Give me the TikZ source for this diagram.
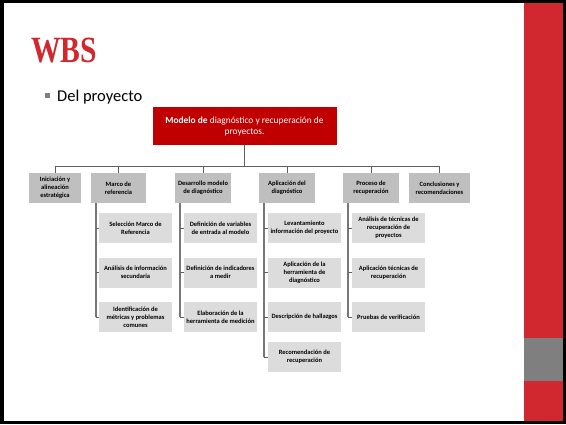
\documentclass[tikz,border=0pt]{standalone}
\usepackage{fontspec}
\setmainfont{Carlito}
\newfontfamily\titlefont{Liberation Serif}
\usepackage{xcolor}
\usetikzlibrary{positioning, calc}
\definecolor{slidered}{HTML}{D0282E}
\definecolor{rootred}{HTML}{C00000}
\definecolor{lvlgray}{HTML}{BFBFBF}
\definecolor{leafgray}{HTML}{DCDCDC}
\definecolor{linegray}{HTML}{5F5F5F}
\definecolor{sidegray}{HTML}{7F7F7F}

\begin{document}
\begin{tikzpicture}[x=1pt, y=-1pt,
    lvlbox/.style={fill=lvlgray, minimum height=30pt, inner sep=0pt, align=center,
                   font=\fontsize{6.5}{7.9}\selectfont\bfseries},
    leafbox/.style={fill=leafgray, minimum width=73pt, minimum height=30pt, inner sep=0pt,
                    align=center, font=\fontsize{6.5}{8}\selectfont\bfseries},
    conn/.style={draw=linegray, line width=1pt},
    hang/.style={draw=linegray!85, line width=1.4pt},
    tick/.style={draw=linegray, line width=0.6pt}]
  \useasboundingbox (0,0) rectangle (566,424);
  % frame and side bar
  \fill[black] (0,0) rectangle (566,424);
  \fill[white] (4,3) rectangle (563,421);
  \fill[slidered] (524,3) rectangle (563,421);
  \fill[sidegray] (524,338) rectangle (563,381);

  % title and bullet
  \node[anchor=base west, inner sep=0pt, text=slidered,
        font=\titlefont\fontsize{37}{37}\selectfont\bfseries] (title) at (31,62)
        {\scalebox{0.8}[1]{WBS}};
  \fill[sidegray] (45,93) rectangle (49.5,97.5);
  \node[anchor=base west, inner sep=0pt, font=\fontsize{16.5}{17}\selectfont] (bul) at (57,101)
        {Del proyecto};

  % root
  \node[fill=rootred, text=white, minimum width=184pt, minimum height=38pt,
        align=center, inner sep=0pt, font=\fontsize{9.4}{11}\selectfont] (root) at (244.5,126)
        {\textbf{Modelo de} diagnóstico y recuperación de\\proyectos.};

  % first level
  \node[lvlbox, minimum width=52pt] (ini) at (55,188) {Iniciación y\\alineación\\estratégica};
  \node[lvlbox, minimum width=55pt] (mar) at (118.5,188) {Marco de\\referencia};
  \node[lvlbox, minimum width=56pt] (des) at (203,188) {Desarrollo modelo\\de diagnóstico};
  \node[lvlbox, minimum width=56pt] (apl) at (287,188) {Aplicación del\\diagnóstico};
  \node[lvlbox, minimum width=56pt] (pro) at (371,188) {Proceso de\\recuperación};
  \node[lvlbox, minimum width=61pt] (con) at (439.5,188) {Conclusiones y\\recomendaciones};

  % leaves
  \node[leafbox] (mar1) at (135.5,228) {Selección Marco de\\Referencia};
  \node[leafbox] (mar2) at (135.5,272.5) {Análisis de información\\secundaria};
  \node[leafbox] (mar3) at (135.5,317) {Identificación de\\métricas y problemas\\comunes};
  \node[leafbox] (des1) at (220.5,228) {Definición de variables\\de entrada al modelo};
  \node[leafbox] (des2) at (220.5,272.5) {Definición de indicadores\\a medir};
  \node[leafbox] (des3) at (220.5,317) {Elaboración de la\\herramienta de medición};
  \node[leafbox] (apl1) at (304.5,228) {Levantamiento\\información del proyecto};
  \node[leafbox] (apl2) at (304.5,272.5) {Aplicación de la\\herramienta de\\diagnóstico};
  \node[leafbox] (apl3) at (304.5,317) {Descripción de hallazgos};
  \node[leafbox] (apl4) at (304.5,357) {Recomendación de\\recuperación};
  \node[leafbox] (pro1) at (388.5,228) {Análisis de técnicas de\\recuperación de\\proyectos};
  \node[leafbox] (pro2) at (388.5,272.5) {Aplicación técnicas de\\recuperación};
  \node[leafbox] (pro3) at (388.5,317) {Pruebas de verificación};

  % connectors
  \coordinate (bus) at (0,166);
  \draw[conn] (root.south) -- (root.south |- bus);
  \draw[conn] (ini.north |- bus) -- (con.north |- bus);
  \foreach \n in {ini,mar,des,apl,pro,con}
    \draw[conn] (\n.north |- bus) -- (\n.north);

  \foreach \p/\last in {mar/3,des/3,apl/4,pro/3} {
    \draw[hang] ([xshift=5pt]\p.south west) -- ([xshift=5pt]\p.south west |- \p\last.west);
    \foreach \k in {1,...,\last}
      \draw[tick] ([xshift=5pt]\p.south west |- \p\k.west) -- (\p\k.west);
  }
\end{tikzpicture}
\end{document}
